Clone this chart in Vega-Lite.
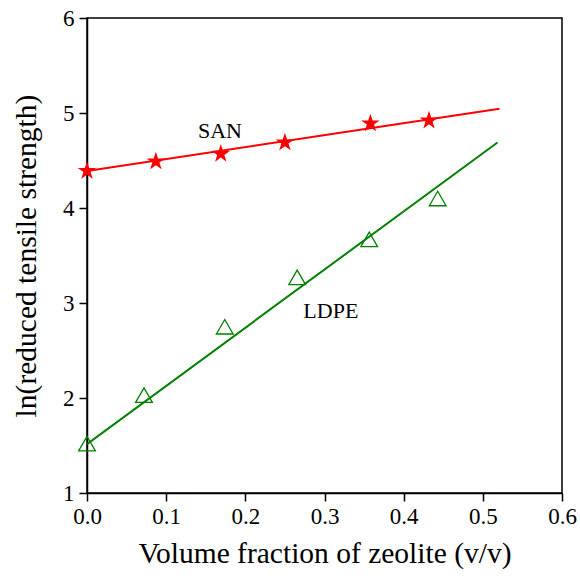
{
  "$schema": "https://vega.github.io/schema/vega-lite/v6.json",
  "width": 475,
  "height": 475,
  "autosize": "none",
  "padding": {"left": 87, "top": 18, "right": 18, "bottom": 91},
  "background": "white",
  "config": {
    "view": {"stroke": "black", "strokeWidth": 1.5},
    "font": "Liberation Serif",
    "axis": {
      "domainColor": "black", "domainWidth": 1.5, "tickColor": "black", "tickWidth": 1.5, "tickSize": 8,
      "labelFont": "Liberation Serif", "labelFontSize": 23, "labelColor": "black",
      "titleFont": "Liberation Serif", "titleFontWeight": "normal", "titleColor": "black",
      "grid": false
    }
  },
  "datasets": {
    "points": [
      {"series": "SAN", "x": 0.0, "y": 4.39},
      {"series": "SAN", "x": 0.087, "y": 4.49},
      {"series": "SAN", "x": 0.169, "y": 4.57},
      {"series": "SAN", "x": 0.25, "y": 4.69},
      {"series": "SAN", "x": 0.358, "y": 4.89},
      {"series": "SAN", "x": 0.432, "y": 4.92},
      {"series": "LDPE", "x": 0.0, "y": 1.52},
      {"series": "LDPE", "x": 0.072, "y": 2.03},
      {"series": "LDPE", "x": 0.174, "y": 2.75},
      {"series": "LDPE", "x": 0.2655, "y": 3.27},
      {"series": "LDPE", "x": 0.3565, "y": 3.67},
      {"series": "LDPE", "x": 0.443, "y": 4.1}
    ],
    "fits": [
      {"series": "SAN", "x": 0.0, "y": 4.39},
      {"series": "SAN", "x": 0.521, "y": 5.045},
      {"series": "LDPE", "x": 0.0, "y": 1.515},
      {"series": "LDPE", "x": 0.5185, "y": 4.69}
    ],
    "labels": [
      {"text": "SAN", "x": 0.168, "y": 4.81},
      {"text": "LDPE", "x": 0.308, "y": 2.915}
    ]
  },
  "layer": [
    {
      "data": {"name": "fits"},
      "mark": {"type": "line", "strokeWidth": 2},
      "encoding": {
        "x": {"field": "x", "type": "quantitative", "scale": {"domain": [0, 0.6], "nice": false},
              "axis": {"title": "Volume fraction of zeolite (v/v)", "titleFontSize": 29.5, "values": [0, 0.1, 0.2, 0.3, 0.4, 0.5, 0.6], "format": ".1f", "labelPadding": 4, "titlePadding": 11, "labelFlush": false}},
        "y": {"field": "y", "type": "quantitative", "scale": {"domain": [1, 6], "nice": false, "zero": false},
              "axis": {"title": "ln(reduced tensile strength)", "titleFontSize": 29.5, "values": [1, 2, 3, 4, 5, 6], "format": "d", "labelPadding": 5, "titlePadding": 21, "labelFlush": false}},
        "color": {"field": "series", "type": "nominal", "scale": {"domain": ["SAN", "LDPE"], "range": ["#ff0000", "#008000"]}, "legend": null},
        "detail": {"field": "series"}
      }
    },
    {
      "data": {"name": "points"},
      "transform": [{"filter": "datum.series == 'SAN'"}],
      "mark": {"type": "point", "shape": "M0,-1L0.225,-0.309L0.951,-0.309L0.363,0.118L0.588,0.809L0,0.382L-0.588,0.809L-0.363,0.118L-0.951,-0.309L-0.225,-0.309Z", "filled": true, "size": 380, "color": "#ff0000", "opacity": 1},
      "encoding": {
        "x": {"field": "x", "type": "quantitative"},
        "y": {"field": "y", "type": "quantitative"}
      }
    },
    {
      "data": {"name": "points"},
      "transform": [{"filter": "datum.series == 'LDPE'"}],
      "mark": {"type": "point", "shape": "triangle-up", "filled": false, "size": 280, "color": "#008000", "strokeWidth": 1.3, "opacity": 1},
      "encoding": {
        "x": {"field": "x", "type": "quantitative"},
        "y": {"field": "y", "type": "quantitative"}
      }
    },
    {
      "data": {"name": "labels"},
      "mark": {"type": "text", "font": "Liberation Serif", "fontSize": 22, "color": "black", "align": "center", "baseline": "middle"},
      "encoding": {
        "x": {"field": "x", "type": "quantitative"},
        "y": {"field": "y", "type": "quantitative"},
        "text": {"field": "text"}
      }
    }
  ]
}
